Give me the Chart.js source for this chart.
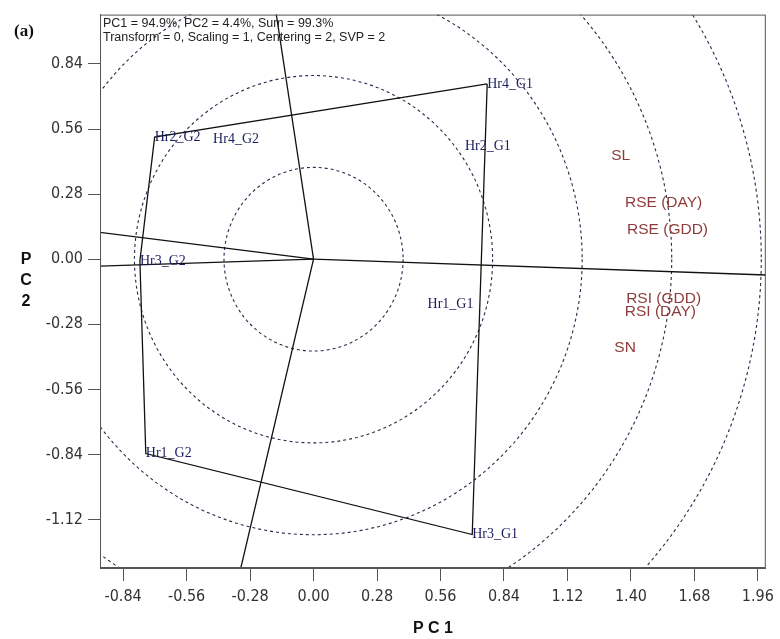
<!DOCTYPE html>
<html>
<head>
<meta charset="utf-8">
<script src="https://cdn.jsdelivr.net/npm/chart.js@4.4.1/dist/chart.umd.min.js"></script>
<style>
html, body { margin: 0; padding: 0; background: #fff; }
#wrap { width: 780px; height: 639px; }
</style>
</head>
<body>
<div id="wrap"><canvas id="biplot" width="780" height="639"></canvas></div>
<script>
// genotype scores
var genoNames = ['Hr1_G1', 'Hr2_G1', 'Hr3_G1', 'Hr4_G1', 'Hr1_G2', 'Hr2_G2', 'Hr3_G2', 'Hr4_G2'];
var genoPC1 = [0.503, 0.668, 0.700, 0.766, -0.740, -0.701, -0.766, -0.443];
var genoPC2 = [-0.193, 0.486, -1.184, 0.754, -0.836, 0.525, -0.007, 0.515];

// trait scores
var envNames = ['SL', 'RSE (DAY)', 'RSE (GDD)', 'RSI (GDD)', 'RSI (DAY)', 'SN'];
var envPC1 = [1.313, 1.374, 1.383, 1.379, 1.373, 1.327];
var envPC2 = [0.447, 0.243, 0.125, -0.172, -0.225, -0.382];

// polygon corners (index into genotypes)
var hullOrder = [3, 5, 6, 4, 2];

var circleRadii = [0.395, 0.79, 1.185, 1.58, 1.975];
var xTicks = [-0.84, -0.56, -0.28, 0.00, 0.28, 0.56, 0.84, 1.12, 1.40, 1.68, 1.96];
var yTicks = [-1.12, -0.84, -0.56, -0.28, 0.00, 0.28, 0.56, 0.84];
var headerLines = ['PC1 = 94.9%, PC2 = 4.4%, Sum = 99.3%', 'Transform = 0, Scaling = 1, Centering = 2, SVP = 2'];

var hullPts = hullOrder.map(function (i) { return { x: genoPC1[i], y: genoPC2[i] }; });

// rays from the origin, perpendicular to each polygon side
var rays = [];
for (var k = 0; k < hullPts.length; k++) {
    var a = hullPts[k], b = hullPts[(k + 1) % hullPts.length];
    var dx = b.x - a.x, dy = b.y - a.y;
    var t = -(a.x * dx + a.y * dy) / (dx * dx + dy * dy);
    var fx = a.x + t * dx, fy = a.y + t * dy;
    var len = Math.sqrt(fx * fx + fy * fy);
    rays.push([{ x: 0, y: 0 }, { x: fx / len * 5, y: fy / len * 5 }]);
}

var datasets = [{
    data: hullPts.concat([hullPts[0]]),
    showLine: true,
    borderColor: '#111',
    borderWidth: 1.3,
    pointRadius: 0
}];
rays.forEach(function (r) {
    datasets.push({ data: r, showLine: true, borderColor: '#111', borderWidth: 1.3, pointRadius: 0 });
});

var tickFont = { family: "'Liberation Sans Narrow', 'DejaVu Sans Condensed', sans-serif", size: 16 };

var biplotDecor = {
    id: 'biplotDecor',
    beforeDatasetsDraw: function (chart) {
        var ctx = chart.ctx, area = chart.chartArea;
        var xs = chart.scales.x, ys = chart.scales.y;
        var cx = xs.getPixelForValue(0), cy = ys.getPixelForValue(0);
        ctx.save();
        ctx.beginPath();
        ctx.rect(area.left, area.top, area.right - area.left, area.bottom - area.top);
        ctx.clip();
        ctx.setLineDash([3, 3]);
        ctx.strokeStyle = '#28284a';
        ctx.lineWidth = 1.1;
        circleRadii.forEach(function (r) {
            var rx = xs.getPixelForValue(r) - cx;
            var ry = cy - ys.getPixelForValue(r);
            ctx.beginPath();
            ctx.ellipse(cx, cy, rx, ry, 0, 0, Math.PI * 2);
            ctx.stroke();
        });
        ctx.restore();
    },
    afterDraw: function (chart) {
        var ctx = chart.ctx, area = chart.chartArea;
        var xs = chart.scales.x, ys = chart.scales.y;
        ctx.save();
        // frame
        ctx.strokeStyle = '#555';
        ctx.lineWidth = 1;
        ctx.strokeRect(area.left + 0.5, area.top + 0.5, area.right - area.left - 1, area.bottom - area.top - 1);

        ctx.textBaseline = 'middle';
        ctx.textAlign = 'left';
        // genotype labels
        ctx.fillStyle = '#1c1c5e';
        ctx.font = "14px 'Liberation Serif', serif";
        genoNames.forEach(function (n, i) {
            ctx.fillText(n, xs.getPixelForValue(genoPC1[i]), ys.getPixelForValue(genoPC2[i]));
        });
        // trait labels
        ctx.fillStyle = '#8e3b3b';
        ctx.font = "15.5px 'Liberation Sans', Arial, sans-serif";
        envNames.forEach(function (n, i) {
            ctx.fillText(n, xs.getPixelForValue(envPC1[i]), ys.getPixelForValue(envPC2[i]));
        });
        // header
        ctx.fillStyle = '#222';
        ctx.font = "12.5px 'Liberation Sans', Arial, sans-serif";
        ctx.textBaseline = 'top';
        headerLines.forEach(function (l, i) {
            ctx.fillText(l, area.left + 3, area.top + 3 + i * 13.5);
        });
        // panel tag
        ctx.fillStyle = '#111';
        ctx.font = "bold 17px 'Liberation Serif', serif";
        ctx.textBaseline = 'middle';
        ctx.fillText('(a)', 14, 32);
        // axis titles
        ctx.font = "bold 16px 'Liberation Sans', Arial, sans-serif";
        ctx.textAlign = 'center';
        ctx.fillText('P C 1', (area.left + area.right) / 2, 629);
        ['P', 'C', '2'].forEach(function (c, i) {
            ctx.fillText(c, 26, ys.getPixelForValue(0) + i * 21);
        });
        ctx.restore();
    }
};

var chart = new Chart(document.getElementById('biplot').getContext('2d'), {
    type: 'scatter',
    data: { datasets: datasets },
    plugins: [biplotDecor],
    options: {
        responsive: false,
        animation: false,
        layout: { padding: { left: 0, right: 9, top: 13, bottom: 0 } },
        plugins: { legend: { display: false }, tooltip: { enabled: false } },
        scales: {
            x: {
                type: 'linear',
                min: -0.942,
                max: 1.995,
                afterBuildTicks: function (s) { s.ticks = xTicks.map(function (v) { return { value: v }; }); },
                afterFit: function (s) { s.height = 71; },
                ticks: {
                    autoSkip: false, maxRotation: 0, color: '#333', font: tickFont, padding: 6,
                    callback: function (v) { return v.toFixed(2); }
                },
                grid: { drawOnChartArea: false, drawTicks: true, tickLength: 13, color: '#555' },
                border: { display: true, color: '#555' }
            },
            y: {
                type: 'linear',
                min: -1.328,
                max: 1.052,
                afterBuildTicks: function (s) { s.ticks = yTicks.map(function (v) { return { value: v }; }); },
                afterFit: function (s) { s.width = 100; },
                ticks: {
                    autoSkip: false, color: '#333', font: tickFont, padding: 5,
                    callback: function (v) { return v.toFixed(2); }
                },
                grid: { drawOnChartArea: false, drawTicks: true, tickLength: 12, color: '#555' },
                border: { display: true, color: '#555' }
            }
        }
    }
});
</script>
</body>
</html>
